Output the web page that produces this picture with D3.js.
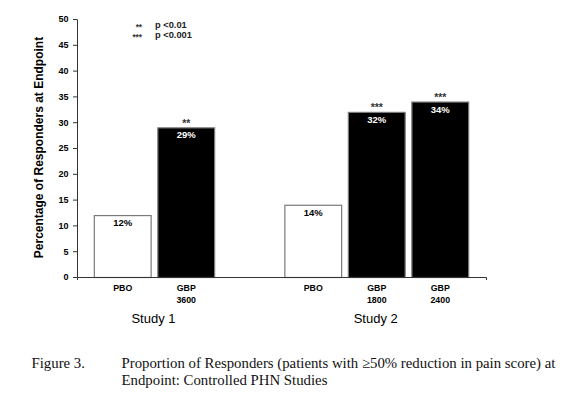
<!DOCTYPE html>
<html>
<head>
<meta charset="utf-8">
<script src="https://cdn.jsdelivr.net/npm/d3@7"></script>
<style>
  body { margin: 0; background: #fff; }
  svg { display: block; font-family: Arial, "Liberation Sans", sans-serif; }
</style>
</head>
<body>
<script>
var w = 576, h = 397;

// data
var slots = ['s1pbo', 's1gbp', 'gap', 's2pbo', 's2gbp18', 's2gbp24'];
var barSlots = ['s1pbo', 's1gbp', 's2pbo', 's2gbp18', 's2gbp24'];
var barNames = [['PBO'], ['GBP', '3600'], ['PBO'], ['GBP', '1800'], ['GBP', '2400']];
var drug = ['PBO', 'GBP', 'PBO', 'GBP', 'GBP'];
var values = [12, 29, 14, 32, 34];
var stars = ['', '**', '', '***', '***'];
var studies = ['Study 1', 'Study 2'];
var studySlots = [['s1pbo', 's1gbp'], ['s2pbo', 's2gbp24']];
var yTicks = [0, 5, 10, 15, 20, 25, 30, 35, 40, 45, 50];
var legendStars = ['**', '***'];
var legendText = ['p <0.01', 'p <0.001'];
var captionLabel = 'Figure 3.';
var captionLines = ['Proportion of Responders (patients with \u226550% reduction in pain score) at',
                    'Endpoint: Controlled PHN Studies'];

var bars = values.map(function (v, i) {
  return { slot: barSlots[i], name: barNames[i], drug: drug[i], value: v, star: stars[i] };
});

var svg = d3.select('body').append('svg')
    .attr('width', w)
    .attr('height', h);

var xScale = d3.scaleBand()
    .domain(slots)
    .range([77, 486])
    .paddingInner(0.09)
    .paddingOuter(0.265);

var yScale = d3.scaleLinear()
    .domain([0, 50])
    .range([277, 19]);

// bars
svg.selectAll('rect.bar')
    .data(bars)
    .enter()
    .append('rect')
    .attr('class', 'bar')
    .attr('x', function (d) { return xScale(d.slot) + 0.5; })
    .attr('y', function (d) { return yScale(d.value) + 0.5; })
    .attr('width', xScale.bandwidth() - 1)
    .attr('height', function (d) { return yScale(0) - yScale(d.value); })
    .attr('fill', function (d) { return d.drug === 'PBO' ? '#fff' : '#000'; })
    .attr('stroke', '#7a7a7a')
    .attr('stroke-width', 1.2);

// value labels
svg.selectAll('text.val')
    .data(bars)
    .enter()
    .append('text')
    .attr('class', 'val')
    .attr('x', function (d) { return xScale(d.slot) + xScale.bandwidth() / 2; })
    .attr('y', function (d) { return yScale(d.value) + 11; })
    .attr('text-anchor', 'middle')
    .attr('font-size', 9.5)
    .attr('font-weight', 'bold')
    .attr('fill', function (d) { return d.drug === 'PBO' ? '#000' : '#fff'; })
    .text(function (d) { return d.value + '%'; });

// significance stars
svg.selectAll('text.star')
    .data(bars.filter(function (d) { return d.star; }))
    .enter()
    .append('text')
    .attr('class', 'star')
    .attr('x', function (d) { return xScale(d.slot) + xScale.bandwidth() / 2; })
    .attr('y', function (d) { return yScale(d.value) - 0.5; })
    .attr('text-anchor', 'middle')
    .attr('font-size', 10.5)
    .attr('font-weight', 'bold')
    .attr('fill', '#333')
    .text(function (d) { return d.star; });

// Y-axis
var yAxis = d3.axisLeft(yScale)
    .tickValues(yTicks)
    .tickSizeInner(4)
    .tickSizeOuter(0)
    .tickPadding(4.5);

var gy = svg.append('g')
    .attr('class', 'axis')
    .attr('transform', 'translate(77,0)')
    .call(yAxis);
gy.selectAll('text')
    .attr('font-size', 9)
    .attr('font-weight', 'bold')
    .attr('font-family', 'Arial, "Liberation Sans", sans-serif')
    .attr('fill', '#000');
gy.selectAll('line, path').attr('stroke', '#333');

// X-axis (category axis, only end ticks)
var xAxis = d3.axisBottom(xScale)
    .tickValues([])
    .tickSizeOuter(3);

var gx = svg.append('g')
    .attr('class', 'axis')
    .attr('transform', 'translate(0,277)')
    .call(xAxis);
gx.selectAll('path').attr('stroke', '#333');

// category labels
var catLabels = svg.selectAll('text.cat')
    .data(bars)
    .enter()
    .append('text')
    .attr('class', 'cat')
    .attr('text-anchor', 'middle')
    .attr('font-size', 8.8)
    .attr('font-weight', 'bold');
catLabels.selectAll('tspan')
    .data(function (d) {
      return d.name.map(function (t) { return { t: t, x: xScale(d.slot) + xScale.bandwidth() / 2 }; });
    })
    .enter()
    .append('tspan')
    .attr('x', function (d) { return d.x; })
    .attr('y', function (d, i) { return 291 + i * 12; })
    .text(function (d) { return d.t; });

// study labels
svg.selectAll('text.study')
    .data(studies)
    .enter()
    .append('text')
    .attr('class', 'study')
    .attr('x', function (d, i) {
      var s = studySlots[i];
      return (xScale(s[0]) + xScale(s[1]) + xScale.bandwidth()) / 2 - 1;
    })
    .attr('y', 322.5)
    .attr('text-anchor', 'middle')
    .attr('font-size', 13)
    .text(function (d) { return d; });

// Y-axis label
svg.append('text')
    .attr('transform', 'translate(43,147.5) rotate(-90)')
    .attr('text-anchor', 'middle')
    .attr('font-size', 12)
    .attr('font-weight', 'bold')
    .text('Percentage of Responders at Endpoint');

// significance legend
var legend = svg.append('g').attr('class', 'legend');
legend.selectAll('text.ls')
    .data(legendStars)
    .enter()
    .append('text')
    .attr('x', 142)
    .attr('y', function (d, i) { return 30 + i * 9.5; })
    .attr('text-anchor', 'end')
    .attr('font-size', 8.2)
    .attr('font-weight', 'bold')
    .attr('fill', '#333')
    .text(function (d) { return d; });
legend.selectAll('text.lt')
    .data(legendText)
    .enter()
    .append('text')
    .attr('x', 155)
    .attr('y', function (d, i) { return 28.3 + i * 9.5; })
    .attr('font-size', 9.3)
    .attr('font-weight', 'bold')
    .attr('fill', '#222')
    .text(function (d) { return d; });

// caption
var cap = svg.append('g')
    .attr('font-family', '"Times New Roman", "Liberation Serif", serif')
    .attr('font-size', 14.8)
    .attr('fill', '#111');
cap.append('text')
    .attr('x', 31.5)
    .attr('y', 368)
    .text(captionLabel);
cap.selectAll('text.capline')
    .data(captionLines)
    .enter()
    .append('text')
    .attr('class', 'capline')
    .attr('x', 121.5)
    .attr('y', function (d, i) { return 368 + i * 17; })
    .text(function (d) { return d; });
</script>
</body>
</html>
